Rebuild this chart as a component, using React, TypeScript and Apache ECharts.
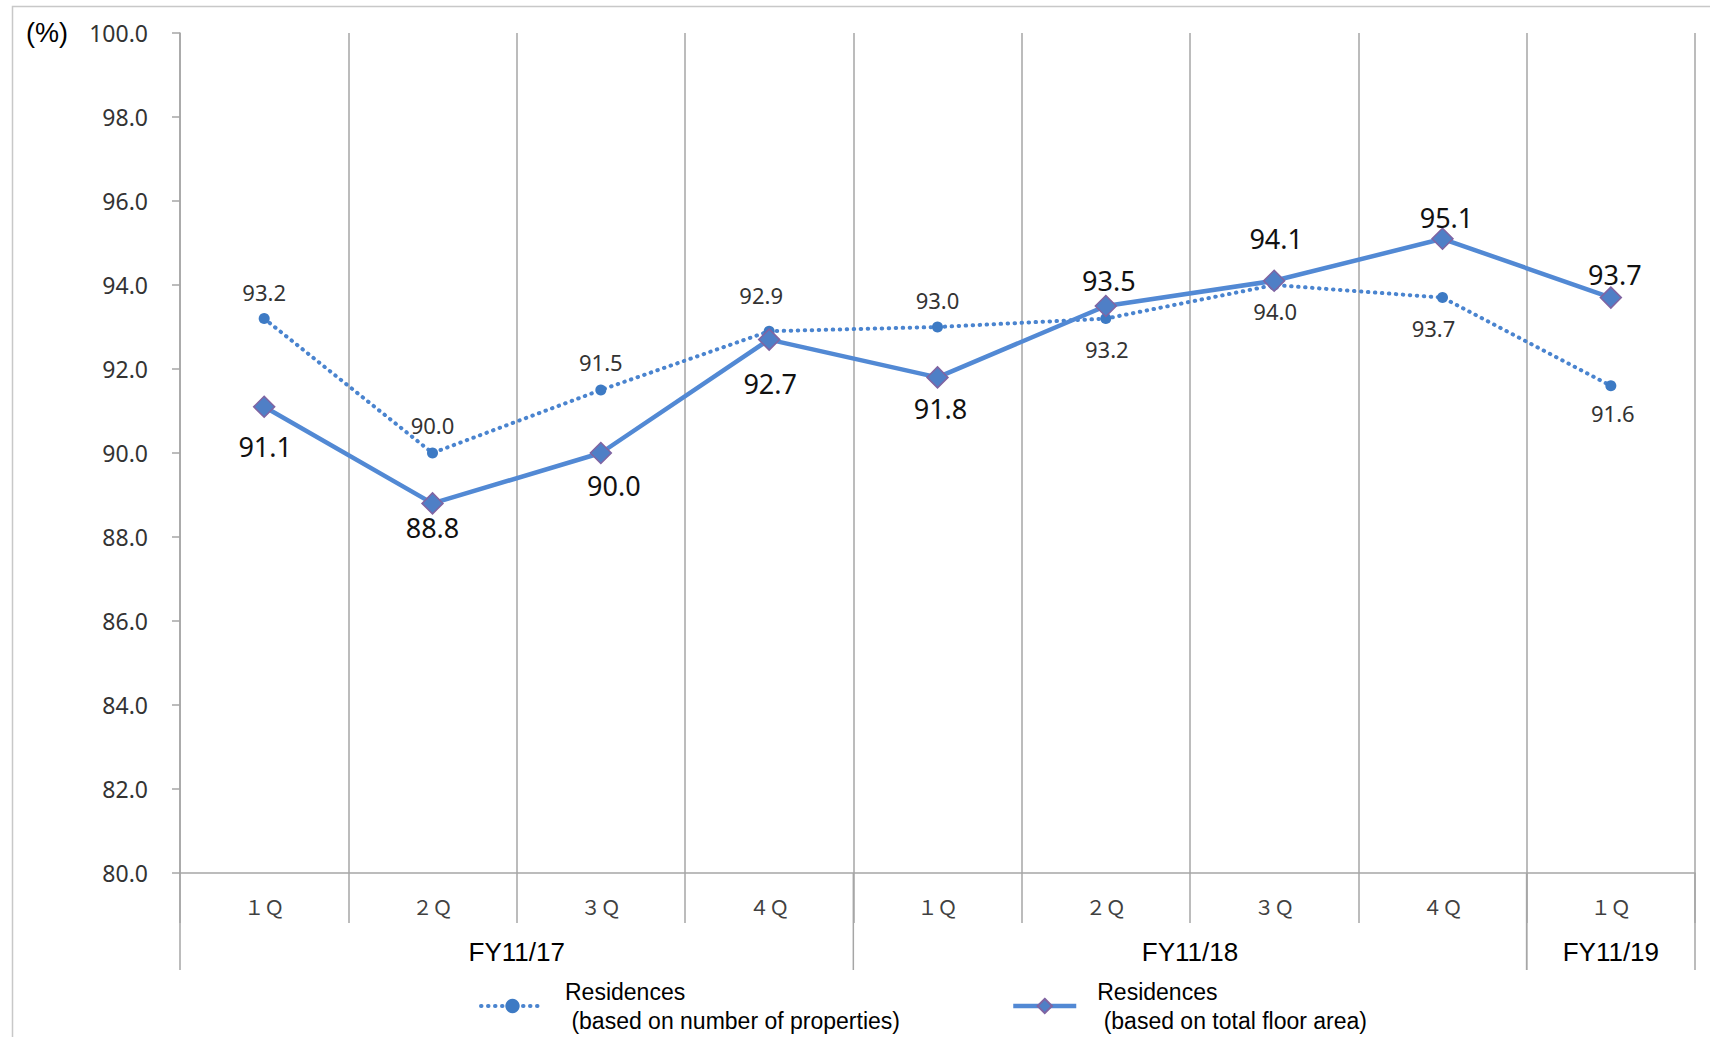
import React, { useEffect, useRef } from "react";
import * as echarts from "echarts";

// Occupancy rate by quarter
const periodKeys = [
  "FY11/17 1Q", "FY11/17 2Q", "FY11/17 3Q", "FY11/17 4Q",
  "FY11/18 1Q", "FY11/18 2Q", "FY11/18 3Q", "FY11/18 4Q",
  "FY11/19 1Q",
];
const quarterLabels = ["１Ｑ", "２Ｑ", "３Ｑ", "４Ｑ", "１Ｑ", "２Ｑ", "３Ｑ", "４Ｑ", "１Ｑ"];
const fiscalYearOf = [
  "FY11/17", "FY11/17", "FY11/17", "FY11/17",
  "FY11/18", "FY11/18", "FY11/18", "FY11/18",
  "FY11/19",
];
const byNumberOfProperties = [93.2, 90.0, 91.5, 92.9, 93.0, 93.2, 94.0, 93.7, 91.6];
const byTotalFloorArea = [91.1, 88.8, 90.0, 92.7, 91.8, 93.5, 94.1, 95.1, 93.7];
const yMin = 80;
const yMax = 100;
const yStep = 2;

const seriesNames = [
  "Residences\n (based on number of properties)",
  "Residences\n (based on total floor area)",
];

// label placement (dx, dy from the marker), styling only
const propLabelOffsets = [
  [0, -27], [0, -28], [0, -28], [-8, -36], [0, -27], [1, 30], [1, 26], [-9, 30], [2, 27],
];
const areaLabelOffsets = [
  [1, 40], [0, 24], [13, 32], [1, 44], [3, 31], [3, -26], [2, -42], [4, -21], [4, -23],
];

const GRID = "#a6a6a6";
const LABEL_FONT = "'Noto Sans', 'Open Sans', sans-serif";
const ARIAL = "'Liberation Sans', Arial, sans-serif";

const dottedLine = { color: "#4a84cf", width: 4, type: [0.5, 6.5], cap: "round" };
const solidLine = { color: "#5289d4", width: 4.5 };

export default function App() {
  const ref = useRef<HTMLDivElement>(null);

  useEffect(() => {
    if (!ref.current) return;
    const chart = echarts.init(ref.current, undefined, { renderer: "svg" });

    const legendBase = {
      top: 972,
      itemWidth: 63,
      itemHeight: 18,
      textStyle: {
        fontFamily: ARIAL,
        fontSize: 23,
        lineHeight: 29,
        color: "#000",
        padding: [0, 0, 0, 16],
      },
    };

    chart.setOption({
      animation: false,
      backgroundColor: "#fff",
      grid: { left: 180, right: 15, top: 33, bottom: 164, containLabel: false },
      legend: [
        { ...legendBase, left: 474, data: [seriesNames[0]], lineStyle: dottedLine },
        { ...legendBase, left: 1006, data: [seriesNames[1]], lineStyle: solidLine },
      ],
      xAxis: {
        type: "category",
        data: periodKeys,
        boundaryGap: true,
        axisLine: { show: true, lineStyle: { color: GRID, width: 1.5 } },
        axisTick: {
          show: true,
          interval: 0,
          length: 50,
          lineStyle: { color: GRID, width: 1.5 },
        },
        splitLine: { show: true, interval: 0, lineStyle: { color: GRID, width: 1.5 } },
        axisLabel: {
          interval: 0,
          margin: 23,
          fontSize: 20,
          color: "#404040",
          fontFamily: "'Noto Sans CJK JP', sans-serif",
          formatter: (_v: string, i: number) => quarterLabels[i],
        },
      },
      yAxis: {
        type: "value",
        min: yMin,
        max: yMax,
        interval: yStep,
        axisLine: { show: true, lineStyle: { color: GRID, width: 1.5 } },
        axisTick: { show: true, length: 8, lineStyle: { color: GRID, width: 1.5 } },
        splitLine: { show: false },
        axisLabel: {
          margin: 32,
          fontSize: 23,
          color: "#333",
          fontFamily: LABEL_FONT,
          formatter: (v: number) => v.toFixed(1),
        },
      },
      series: [
        {
          name: seriesNames[0],
          type: "line",
          data: byNumberOfProperties.map((v, i) => ({
            value: v,
            label: { offset: propLabelOffsets[i] },
          })),
          symbol: "circle",
          symbolSize: 11,
          itemStyle: { color: "#3d7ac4" },
          lineStyle: dottedLine,
          label: {
            show: true,
            position: "inside",
            fontSize: 22,
            color: "#333",
            fontFamily: LABEL_FONT,
            formatter: (p: any) => Number(p.value).toFixed(1),
          },
          z: 2,
        },
        {
          name: seriesNames[1],
          type: "line",
          data: byTotalFloorArea.map((v, i) => ({
            value: v,
            label: { offset: areaLabelOffsets[i] },
          })),
          symbol: "diamond",
          symbolSize: [21, 21],
          itemStyle: { color: "#4f7fc6", borderColor: "#8064a2", borderWidth: 1.5 },
          lineStyle: solidLine,
          label: {
            show: true,
            position: "inside",
            fontSize: 27,
            color: "#111",
            fontFamily: LABEL_FONT,
            formatter: (p: any) => Number(p.value).toFixed(1),
          },
          z: 3,
        },
      ],
    });

    // fiscal-year band below the quarter axis, placed from the axis scale
    const cx = (i: number) => chart.convertToPixel({ xAxisIndex: 0 }, i) as number;
    const half = (cx(1) - cx(0)) / 2;
    const axisY = chart.convertToPixel({ yAxisIndex: 0 }, yMin) as number;
    const topY = chart.convertToPixel({ yAxisIndex: 0 }, yMax) as number;

    const groups: { name: string; start: number; end: number }[] = [];
    fiscalYearOf.forEach((fy, i) => {
      const g = groups[groups.length - 1];
      if (g && g.name === fy) g.end = i;
      else groups.push({ name: fy, start: i, end: i });
    });

    const elements: any[] = [
      {
        type: "rect",
        shape: { x: 12.5, y: 6.5, width: 1760, height: 1100 },
        style: { fill: "none", stroke: "#c8c8c8", lineWidth: 1.5 },
        silent: true,
      },
      {
        type: "text",
        x: 47,
        y: topY,
        style: {
          text: "(%)",
          fontSize: 27,
          fontFamily: ARIAL,
          fontWeight: "normal",
          fill: "#000",
          align: "center",
          verticalAlign: "middle",
        },
      },
    ];
    const boundaries = new Set<number>();
    groups.forEach((g) => {
      boundaries.add(cx(g.start) - half);
      boundaries.add(cx(g.end) + half);
      elements.push({
        type: "text",
        x: (cx(g.start) + cx(g.end)) / 2,
        y: axisY + 79,
        style: {
          text: g.name,
          fontSize: 26,
          fontFamily: ARIAL,
          fontWeight: "normal",
          fill: "#000",
          align: "center",
          verticalAlign: "middle",
        },
      });
    });
    boundaries.forEach((bx) => {
      elements.push({
        type: "line",
        shape: { x1: bx, y1: axisY, x2: bx, y2: axisY + 97 },
        style: { stroke: GRID, lineWidth: 1.5 },
        silent: true,
      });
    });
    chart.setOption({ graphic: elements });

    return () => chart.dispose();
  }, []);

  return (
    <div
      ref={ref}
      style={{ position: "fixed", left: 0, top: 0, width: 1710, height: 1037 }}
    />
  );
}
